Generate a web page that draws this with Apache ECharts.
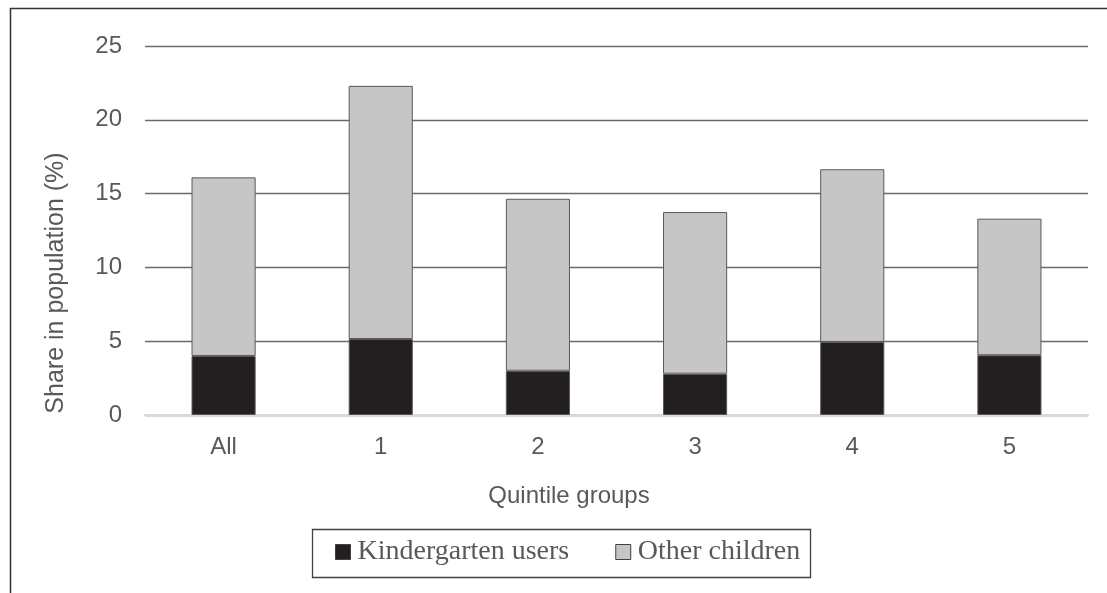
<!DOCTYPE html>
<html>
<head>
<meta charset="utf-8">
<script src="https://cdn.jsdelivr.net/npm/echarts@6/dist/echarts.min.js"></script>
<style>
  html, body { margin: 0; padding: 0; background: #fff; }
  #chart { width: 1107px; height: 593px; }
</style>
</head>
<body>
<div id="chart"></div>
<script>
// Population share of children by quintile group (%)
const categories = ['All', '1', '2', '3', '4', '5'];
const kindergartenUsers = [4.0, 5.15, 3.0, 2.8, 4.95, 4.05];
const otherChildren = [12.1, 17.15, 11.65, 10.95, 11.7, 9.25];
const yTicks = [0, 5, 10, 15, 20, 25];

const chart = echarts.init(document.getElementById('chart'));

const axisFont = 'Liberation Sans, Arial, sans-serif';
const textGrey = '#595959';

chart.setOption({
  animation: false,
  backgroundColor: '#ffffff',
  grid: { left: 145, right: 19, top: 46, bottom: 178 },
  legend: {
    data: ['Kindergarten users', 'Other children'],
    left: 335,
    top: 538,
    padding: 0,
    icon: 'rect',
    itemWidth: 15,
    itemHeight: 15,
    itemGap: 46,
    itemStyle: { borderColor: '#404040', borderWidth: 1 },
    textStyle: {
      fontFamily: 'Liberation Serif, Times New Roman, serif',
      fontSize: 28,
      color: textGrey,
      padding: [0, 0, 0, 2]
    }
  },
  xAxis: {
    type: 'category',
    data: categories,
    axisTick: { show: false },
    axisLine: { lineStyle: { color: '#d9d9d9', width: 2 } },
    axisLabel: { color: textGrey, fontFamily: axisFont, fontSize: 24, margin: 20 }
  },
  yAxis: {
    type: 'value',
    min: yTicks[0],
    max: yTicks[yTicks.length - 1],
    interval: 5,
    axisLine: { show: false },
    axisTick: { show: false },
    axisLabel: { color: textGrey, fontFamily: axisFont, fontSize: 24, margin: 23 },
    splitLine: { lineStyle: { color: '#6a6a6a', width: 1.3 } }
  },
  series: [
    {
      name: 'Kindergarten users',
      type: 'bar',
      stack: 'total',
      data: kindergartenUsers,
      barWidth: '40.8%',
      itemStyle: { color: '#231f20', borderColor: '#595959', borderWidth: 1 }
    },
    {
      name: 'Other children',
      type: 'bar',
      stack: 'total',
      data: otherChildren,
      barWidth: '40.8%',
      itemStyle: { color: '#c6c6c6', borderColor: '#595959', borderWidth: 1 }
    }
  ],
  graphic: [
    {
      type: 'rect',
      left: 8, top: 6,
      shape: { width: 1120, height: 620 },
      style: { fill: 'none', stroke: '#333333', lineWidth: 1.5 },
      silent: true
    },
    {
      type: 'rect',
      left: 310, top: 527,
      shape: { width: 498, height: 48 },
      style: { fill: 'none', stroke: '#404040', lineWidth: 1.3 },
      silent: true
    },
    {
      // vertical axis title, centred on its anchor point
      type: 'text',
      x: 56,
      y: 283,
      rotation: Math.PI / 2,
      style: {
        text: 'Share in population (%)',
        fill: textGrey,
        font: '25px Liberation Sans, Arial, sans-serif',
        align: 'center',
        verticalAlign: 'middle'
      }
    },
    {
      type: 'text',
      x: 569,
      y: 496,
      style: {
        text: 'Quintile groups',
        fill: textGrey,
        font: '24px Liberation Sans, Arial, sans-serif',
        align: 'center',
        verticalAlign: 'middle'
      }
    }
  ]
});
</script>
</body>
</html>
